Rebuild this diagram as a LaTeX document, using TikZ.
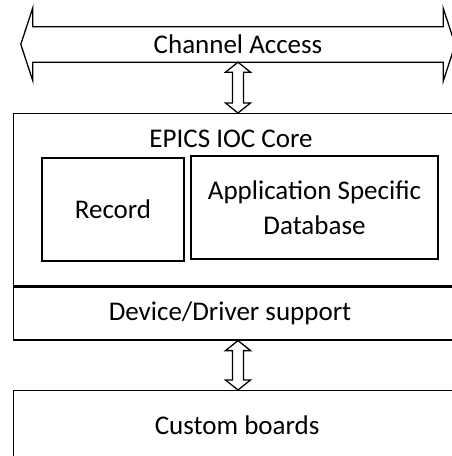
\documentclass[tikz,border=0pt]{standalone}
\usepackage{fontspec}
\setmainfont{Carlito}
\usetikzlibrary{calc, positioning}

\tikzset{
  blockbox/.style={draw, line width=1.3pt, inner sep=0pt},
  blocktext/.style={font=\fontsize{27}{35}\selectfont, align=center},
  hollow/.style={draw, line width=1.3pt, line join=miter, fill=white},
}

% hollow up/down arrow between two anchors (x taken from the first)
\newcommand{\hollowarrow}[2]{%
  \draw[hollow] let \p1=(#1), \p2=(#2) in
    (\x1,\y1) -- (\x1+12.5pt,\y1-10pt) -- (\x1+5.5pt,\y1-10pt)
    -- (\x1+5.5pt,\y2+10pt) -- (\x1+12.5pt,\y2+10pt) -- (\x1,\y2)
    -- (\x1-12.5pt,\y2+10pt) -- (\x1-5.5pt,\y2+10pt)
    -- (\x1-5.5pt,\y1-10pt) -- (\x1-12.5pt,\y1-10pt) -- cycle;}

\begin{document}
\begin{tikzpicture}[x=1pt, y=-1pt]
  \useasboundingbox (0,0) rectangle (451,456);

  % Channel Access bus
  \node[blocktext, minimum width=410pt, minimum height=35pt, inner sep=0pt] (ca) at (238,44.5) {Channel Access};
  \draw[hollow, fill=none] (ca.north west) -- ++(0,-19) -- ++(-12,36.5) -- ++(12,36.5)
    -- (ca.south west) -- (ca.south east) -- ++(0,19) -- ++(12,-36.5) -- ++(-12,-36.5)
    -- (ca.north east) -- cycle;

  % IOC core with its two inner blocks
  \node[blockbox, anchor=north west, minimum width=447pt, minimum height=172pt] (core) at (13,113) {};
  \node[blocktext] (corelabel) at (231,139) {EPICS IOC Core};
  \node[blockbox, blocktext, minimum width=142pt, minimum height=103pt] (record) at (113,209.5) {Record};
  \node[blockbox, blocktext, minimum width=247pt, minimum height=103pt] (asd) at (314.5,207.5) {Application Specific\\Database};

  % driver layer and hardware
  \node[blockbox, anchor=north west, minimum width=447pt, minimum height=53pt] (driver) at (core.south west) {};
  \node[blocktext] (driverlabel) at (230,313) {Device/Driver support};
  \node[blockbox, blocktext, anchor=north west, minimum width=447pt, minimum height=70pt] (boards) at (13,390) {Custom boards};

  % links between the layers
  \hollowarrow{ca.south}{core.north}
  \hollowarrow{ca.south |- driver.south}{boards.north}
\end{tikzpicture}
\end{document}
